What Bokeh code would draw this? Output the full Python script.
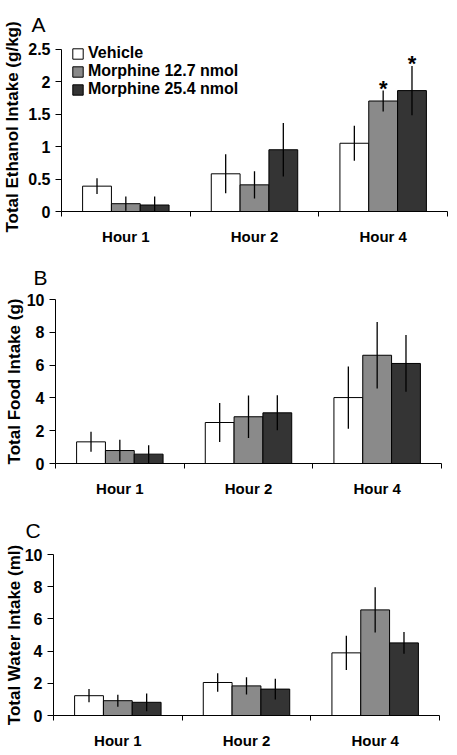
import numpy as np
from bokeh.plotting import figure
from bokeh.layouts import column
from bokeh.models import Range1d, FixedTicker, Legend, LegendItem
from bokeh.core.properties import value
from bokeh.embed import file_html
from bokeh.resources import INLINE

hours = ["Hour 1", "Hour 2", "Hour 4"]
groups = ["Vehicle", "Morphine 12.7 nmol", "Morphine 25.4 nmol"]

# Panel A: Total Ethanol Intake (g/kg)
ethanol_vehicle = [0.39, 0.58, 1.05]
ethanol_m127 = [0.12, 0.41, 1.70]
ethanol_m254 = [0.10, 0.95, 1.86]
ethanol_vehicle_err = [0.12, 0.30, 0.27]
ethanol_m127_err = [0.11, 0.21, 0.16]
ethanol_m254_err = [0.13, 0.41, 0.38]
ethanol_sig_m127 = [False, False, True]
ethanol_sig_m254 = [False, False, True]
ethanol_ticks = [0, 0.5, 1, 1.5, 2, 2.5]

# Panel B: Total Food Intake (g)
food_vehicle = [1.32, 2.50, 4.02]
food_m127 = [0.79, 2.85, 6.60]
food_m254 = [0.57, 3.09, 6.10]
food_vehicle_err = [0.61, 1.19, 1.90]
food_m127_err = [0.66, 1.30, 2.03]
food_m254_err = [0.54, 1.07, 1.73]
food_ticks = [0, 2, 4, 6, 8, 10]

# Panel C: Total Water Intake (ml)
water_vehicle = [1.23, 2.05, 3.89]
water_m127 = [0.92, 1.84, 6.56]
water_m254 = [0.82, 1.64, 4.51]
water_vehicle_err = [0.41, 0.58, 1.06]
water_m127_err = [0.37, 0.54, 1.41]
water_m254_err = [0.55, 0.64, 0.67]
water_ticks = [0, 2, 4, 6, 8, 10]

FILLS = ["#ffffff", "#8a8a8a", "#343434"]
FONT = "Liberation Sans"
BAR_W = 0.224
OFFS = [-BAR_W, 0.0, BAR_W]


def make_panel(letter, letter_dx, letter_standoff, ytitle, means, errs, yticks, yhead,
               height, top, bottom, shift, title_standoff, sig=None, legend=False):
    ymax = yticks[-1]
    p = figure(width=455 + shift, height=height, output_backend="svg",
               toolbar_location=None,
               x_range=Range1d(0, len(hours)), y_range=Range1d(0, ymax + yhead),
               min_border_top=top, min_border_bottom=bottom, min_border_left=58,
               min_border_right=8)
    if shift:
        p.styles = {"margin-left": "-%dpx" % shift}
    p.outline_line_color = None
    p.xgrid.visible = False
    p.ygrid.visible = False
    p.background_fill_color = "white"
    p.border_fill_color = "white"

    p.title.text = letter
    p.title.align = "left"
    p.title.offset = letter_dx
    p.title.text_font = FONT
    p.title.text_font_style = "normal"
    p.title.text_font_size = "21px"
    p.title.text_color = "black"
    p.title.standoff = letter_standoff

    centers = np.arange(len(hours)) + 0.5
    renderers = []
    for j in range(3):
        xs = centers + OFFS[j]
        m = np.array(means[j])
        e = np.array(errs[j])
        r = p.vbar(x=xs, top=m, bottom=0, width=BAR_W, fill_color=FILLS[j],
                   line_color="black", line_width=1)
        renderers.append(r)
        p.segment(x0=xs, y0=m - e, x1=xs, y1=m + e, line_color="black", line_width=1.3)
        if sig is not None and sig[j] is not None:
            sx = [x for x, s in zip(xs, sig[j]) if s]
            sy = [v for v, s in zip(m + e, sig[j]) if s]
            p.text(x=sx, y=sy, text=["*"] * len(sx), text_align="center",
                   text_baseline="alphabetic", y_offset=-2,
                   text_font=value(FONT), text_font_style="bold",
                   text_font_size="22px", text_color="black")

    # x axis: labels at centers, tick marks at category boundaries
    xa = p.xaxis[0]
    xa.ticker = FixedTicker(ticks=list(centers), minor_ticks=list(range(len(hours) + 1)))
    xa.major_label_overrides = {float(c): h for c, h in zip(centers, hours)}
    xa.major_tick_out = 0
    xa.major_tick_in = 0
    xa.minor_tick_out = 5
    xa.minor_tick_in = 0
    xa.minor_tick_line_color = "black"
    xa.major_label_standoff = 11
    xa.major_label_text_font = FONT
    xa.major_label_text_font_style = "bold"
    xa.major_label_text_font_size = "15px"
    xa.major_label_text_color = "black"
    xa.axis_line_color = "black"

    ya = p.yaxis[0]
    ya.ticker = FixedTicker(ticks=yticks)
    ya.bounds = (0, ymax)
    ya.major_label_overrides = {float(t): ("%g" % t) for t in yticks}
    ya.minor_tick_line_color = None
    ya.major_tick_out = 6
    ya.major_tick_in = 0
    ya.major_tick_line_color = "black"
    ya.axis_line_color = "black"
    ya.major_label_standoff = 5
    ya.major_label_text_font = FONT
    ya.major_label_text_font_style = "bold"
    ya.major_label_text_font_size = "16px"
    ya.major_label_text_color = "black"
    ya.axis_label = ytitle
    ya.axis_label_text_font = FONT
    ya.axis_label_text_font_style = "bold"
    ya.axis_label_text_font_size = "17px"
    ya.axis_label_text_color = "black"
    ya.axis_label_standoff = title_standoff

    if legend:
        items = [LegendItem(label=g, renderers=[r]) for g, r in zip(groups, renderers)]
        lg = Legend(items=items, location=(10, 113), margin=0, padding=0, spacing=0,
                    glyph_width=13, glyph_height=13, label_height=16, label_standoff=4,
                    label_text_font=FONT, label_text_font_style="bold",
                    label_text_font_size="16px",
                    label_text_color="black",
                    border_line_color=None, background_fill_alpha=0)
        p.add_layout(lg, "center")
    return p


pa = make_panel("A", -30, 13, "Total Ethanol Intake (g/kg)",
                [ethanol_vehicle, ethanol_m127, ethanol_m254],
                [ethanol_vehicle_err, ethanol_m127_err, ethanol_m254_err],
                ethanol_ticks, 0.1, 252, 42, 41, 0, 3,
                sig=[None, ethanol_sig_m127, ethanol_sig_m254], legend=True)
pb = make_panel("B", -22, 21, "Total Food Intake (g)",
                [food_vehicle, food_m127, food_m254],
                [food_vehicle_err, food_m127_err, food_m254_err],
                food_ticks, 0, 252, 47, 41, 6, 0)
pc = make_panel("C", -28, 25, "Total Water Intake (ml)",
                [water_vehicle, water_m127, water_m254],
                [water_vehicle_err, water_m127_err, water_m254_err],
                water_ticks, 0, 250, 48, 39, 8, -2)

layout = column(pa, pb, pc, spacing=0)
open("out.html", "w").write(file_html(layout, INLINE))
